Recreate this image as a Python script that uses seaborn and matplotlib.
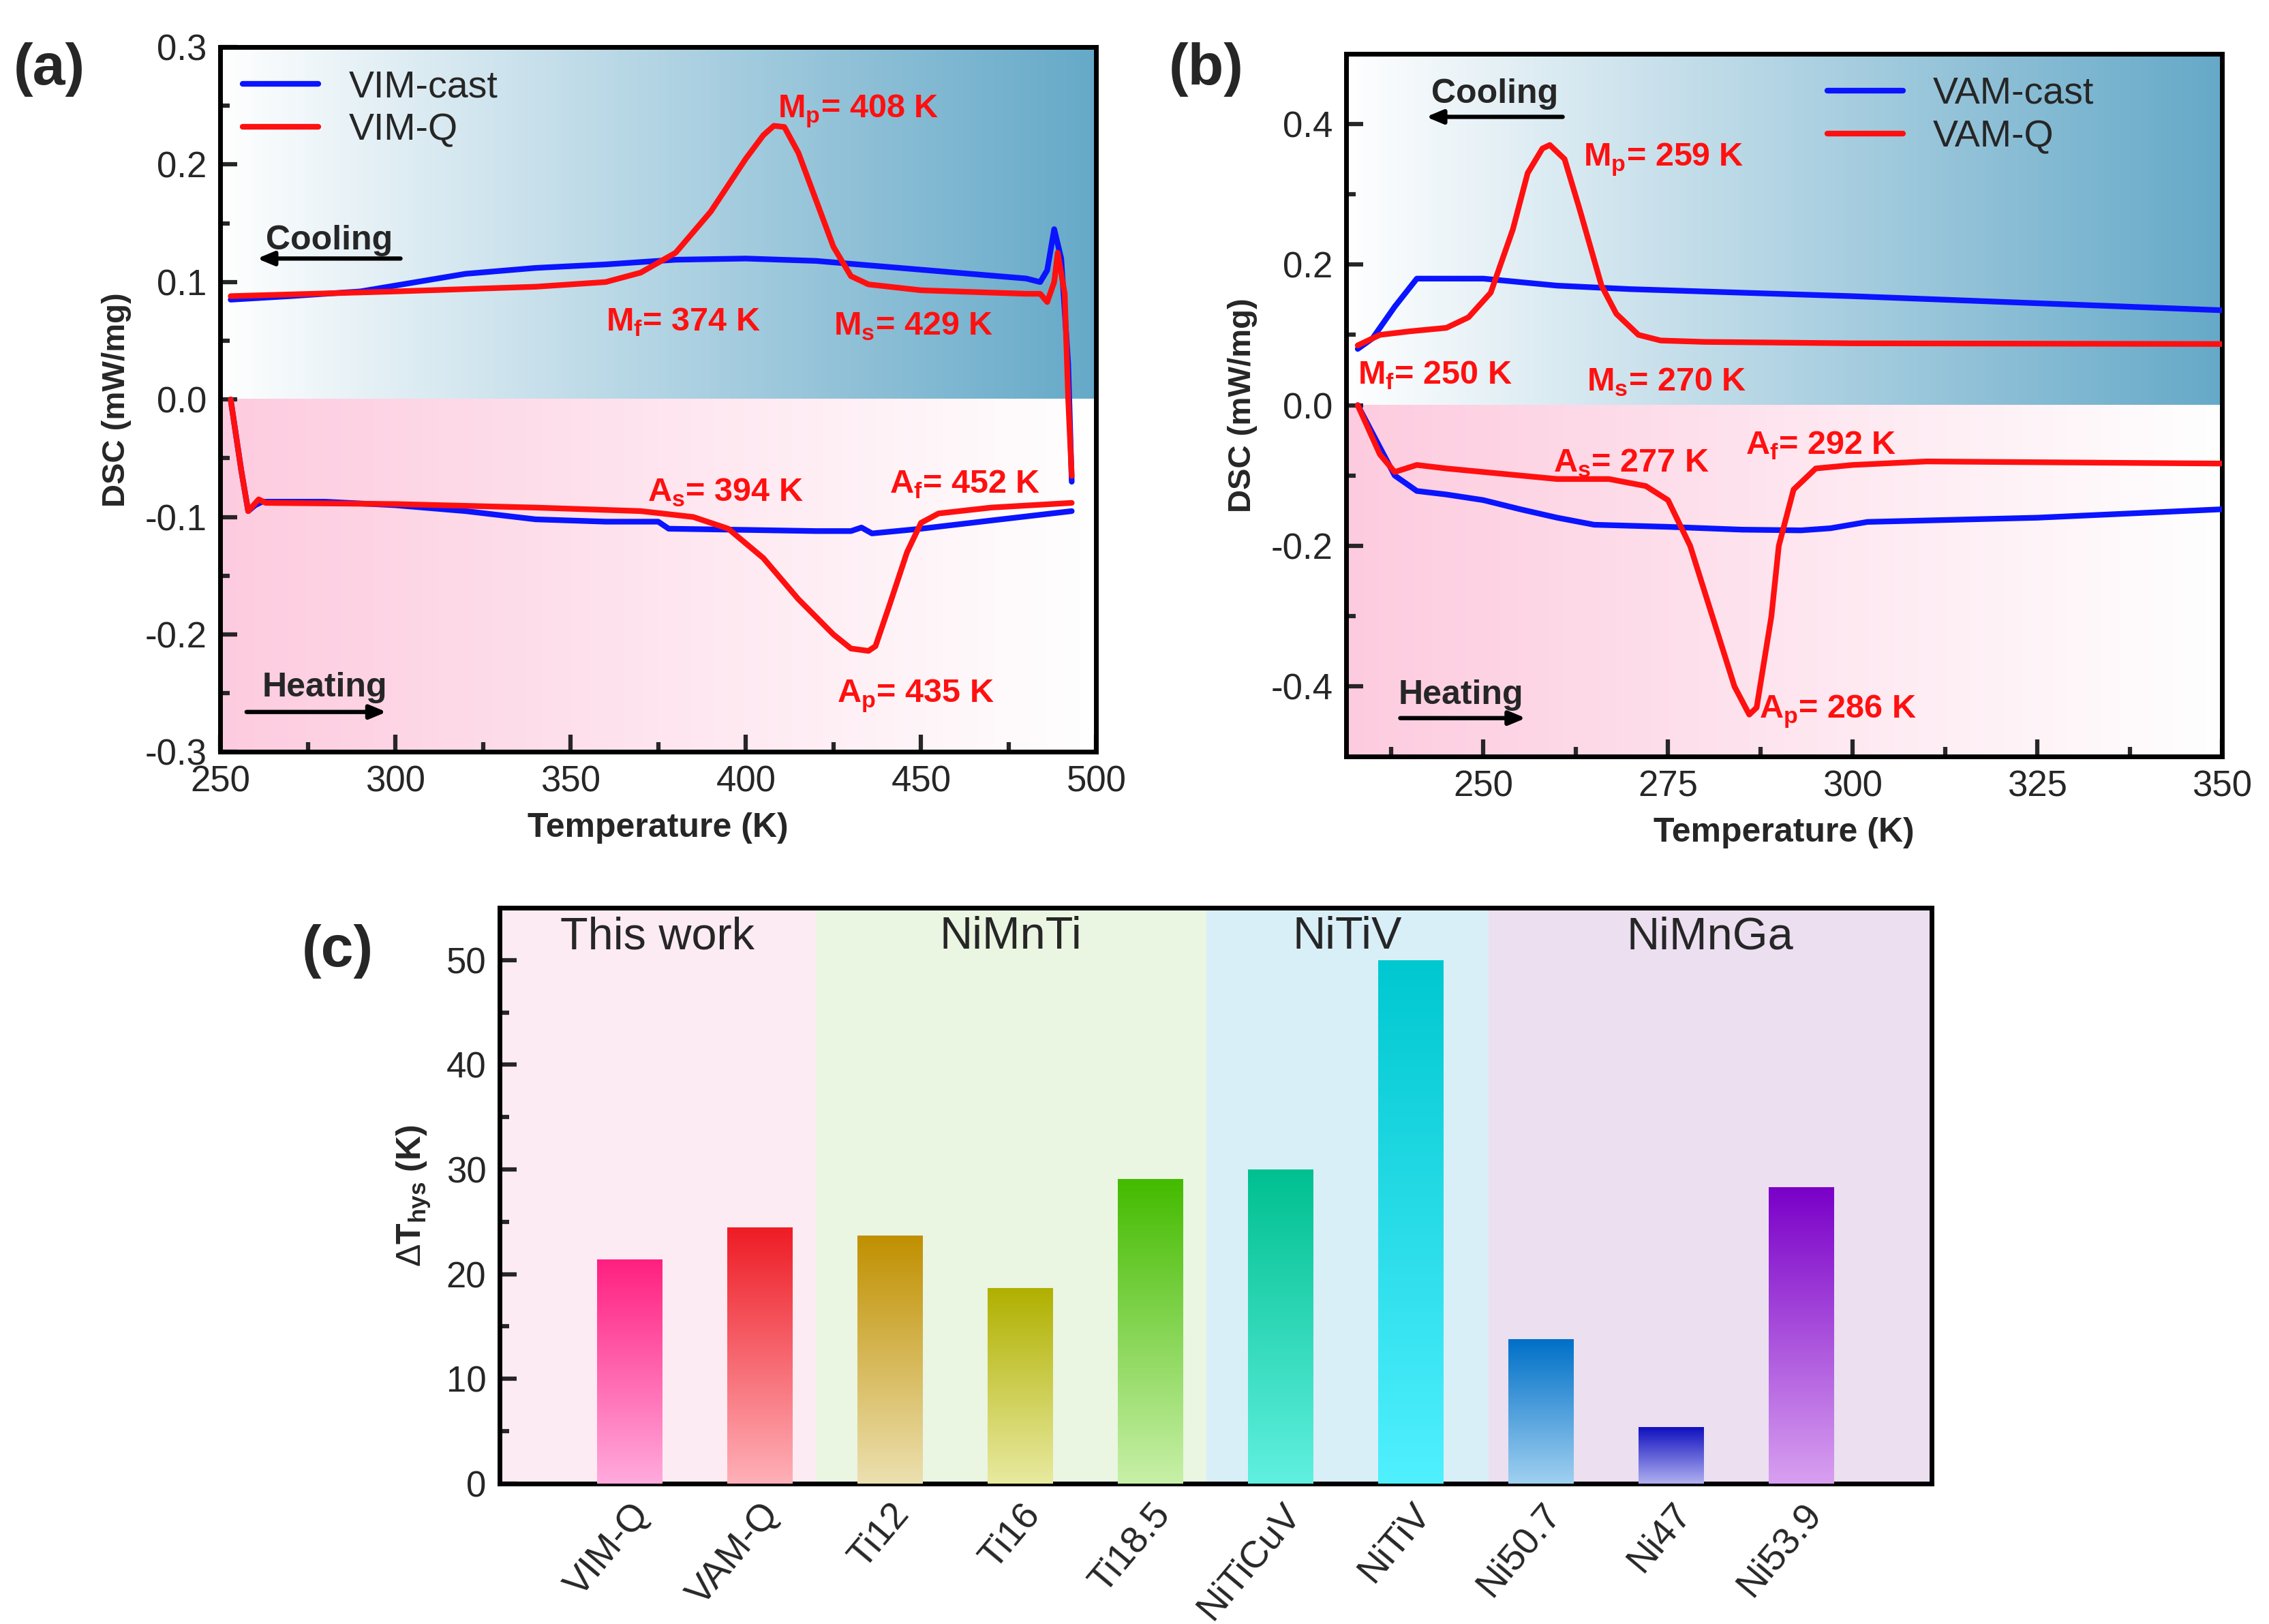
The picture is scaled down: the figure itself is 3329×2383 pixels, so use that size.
import numpy as np
import pandas as pd
import matplotlib
matplotlib.use("Agg")
import matplotlib.pyplot as plt
import seaborn as sns
from matplotlib.colors import LinearSegmentedColormap

sns.set_theme(style="ticks")
plt.rcParams["font.family"] = ["Liberation Sans", "DejaVu Sans"]
plt.rcParams["mathtext.fontset"] = "custom"
plt.rcParams["mathtext.bf"] = "Liberation Sans:bold"
plt.rcParams["mathtext.rm"] = "Liberation Sans"

# ---------------- data: panel (a) ----------------
a_cast_cool_T = [253, 270, 290, 300, 320, 340, 360, 380, 400, 420, 440, 460, 480, 484, 486, 488, 490, 492, 493]
a_cast_cool_Y = [0.085, 0.088, 0.092, 0.097, 0.107, 0.112, 0.115, 0.119, 0.12, 0.118, 0.113, 0.108, 0.103, 0.1, 0.11, 0.145, 0.12, 0.03, -0.07]
a_cast_heat_T = [253, 256, 258, 260, 262, 280, 300, 320, 340, 360, 375, 378, 400, 420, 430, 433, 436, 450, 470, 493]
a_cast_heat_Y = [0, -0.06, -0.095, -0.09, -0.087, -0.087, -0.09, -0.095, -0.102, -0.104, -0.104, -0.11, -0.111, -0.112, -0.112, -0.109, -0.114, -0.11, -0.103, -0.095]
a_q_cool_T = [253, 300, 340, 360, 370, 380, 390, 400, 405, 408, 411, 415, 420, 425, 430, 435, 450, 480, 484, 486, 488, 489, 491, 492, 493]
a_q_cool_Y = [0.088, 0.092, 0.096, 0.1, 0.108, 0.125, 0.16, 0.205, 0.225, 0.233, 0.232, 0.21, 0.17, 0.13, 0.105, 0.098, 0.093, 0.09, 0.09, 0.083, 0.1, 0.125, 0.09, 0.0, -0.065]
a_q_heat_T = [253, 256, 258, 261, 263, 300, 340, 370, 385, 395, 405, 415, 425, 430, 435, 437, 441, 446, 450, 455, 470, 493]
a_q_heat_Y = [0, -0.06, -0.095, -0.085, -0.088, -0.089, -0.092, -0.095, -0.1, -0.11, -0.135, -0.17, -0.2, -0.212, -0.214, -0.21, -0.175, -0.13, -0.105, -0.097, -0.092, -0.088]

# ---------------- data: panel (b) ----------------
b_cast_cool_T = [233, 235, 238, 241, 245, 250, 255, 260, 270, 300, 325, 350]
b_cast_cool_Y = [0.08, 0.095, 0.14, 0.18, 0.18, 0.18, 0.175, 0.17, 0.165, 0.155, 0.145, 0.135]
b_q_cool_T = [233, 236, 240, 245, 248, 251, 254, 256, 258, 259, 261, 263, 266, 268, 271, 274, 280, 300, 350]
b_q_cool_Y = [0.085, 0.1, 0.105, 0.11, 0.125, 0.16, 0.25, 0.33, 0.365, 0.37, 0.35, 0.28, 0.17, 0.13, 0.1, 0.092, 0.09, 0.088, 0.087]
b_cast_heat_T = [233, 235, 238, 241, 245, 250, 255, 260, 265, 275, 285, 293, 297, 302, 325, 350]
b_cast_heat_Y = [0, -0.04, -0.1, -0.122, -0.127, -0.135, -0.148, -0.16, -0.17, -0.173, -0.177, -0.178, -0.175, -0.166, -0.16, -0.148]
b_q_heat_T = [233, 236, 238, 241, 245, 255, 260, 267, 272, 275, 278, 281, 284, 286, 287, 289, 290, 292, 295, 300, 310, 350]
b_q_heat_Y = [0, -0.07, -0.095, -0.085, -0.09, -0.1, -0.105, -0.105, -0.115, -0.135, -0.2, -0.3, -0.4, -0.44, -0.43, -0.3, -0.2, -0.12, -0.09, -0.085, -0.08, -0.083]

# ---------------- data: panel (c) ----------------
samples = ["VIM-Q", "VAM-Q", "Ti12", "Ti16", "Ti18.5", "NiTiCuV", "NiTiV", "Ni50.7", "Ni47", "Ni53.9"]
dT_hys = [21.4, 24.5, 23.7, 18.7, 29.1, 30.0, 50.0, 13.8, 5.4, 28.3]
bar_top = ["#ff2080", "#ee1c25", "#c09000", "#b0b000", "#44bb00", "#00c090", "#00c8d0", "#0070c8", "#1010c0", "#7a00c8"]
bar_bot = ["#ffaadd", "#ffb0b8", "#ece0b0", "#e8eaa0", "#c8f0a8", "#60f0e0", "#50f0ff", "#a0d0f0", "#b0b0f0", "#d8a0f0"]
groups = ["This work", "NiMnTi", "NiTiV", "NiMnGa"]
group_edges = [-1.0, 1.43, 4.43, 6.6, 10.0]
group_colors = ["#fdebf3", "#eaf5e2", "#d8eff8", "#ebdff0"]

RED = "#ff1010"
BLUE = "#0a14ff"

fig = plt.figure(figsize=(33.3, 23.83), dpi=100)
ax_a = fig.add_axes([0.097, 0.537, 0.386, 0.434])
ax_b = fig.add_axes([0.593, 0.534, 0.386, 0.433])
ax_c = fig.add_axes([0.220, 0.0865, 0.631, 0.3545])


def background(ax, xlim, ylim):
    top = LinearSegmentedColormap.from_list("t", ["#ffffff", "#65a9c8"])
    bot = LinearSegmentedColormap.from_list("b", ["#fdcbdf", "#ffffff"])
    g = np.linspace(0, 1, 256).reshape(1, -1)
    ax.imshow(g, cmap=top, aspect="auto", extent=[xlim[0], xlim[1], 0, ylim[1]], zorder=0)
    ax.imshow(g, cmap=bot, aspect="auto", extent=[xlim[0], xlim[1], ylim[0], 0], zorder=0)
    ax.set_xlim(*xlim)
    ax.set_ylim(*ylim)


def style(ax):
    for s in ax.spines.values():
        s.set_linewidth(5)
        s.set_color("black")
    ax.tick_params(which="major", direction="in", length=18, width=4.5, labelsize=38, pad=14)
    ax.tick_params(which="minor", direction="in", length=10, width=4.5)


def curve(ax, T, Y, color, label=None):
    sns.lineplot(x=T, y=Y, ax=ax, color=color, lw=6, sort=False, label=label, zorder=3)


fmt = matplotlib.ticker.FuncFormatter(lambda v, p: f"{v:.1f}".replace("-0.0", "0.0"))
ann = dict(color=RED, fontsize=35, fontweight="bold", zorder=5)
arrow = dict(arrowstyle="-|>,head_width=0.5,head_length=1.2", lw=4.5, color="black")

# ---- panel (a)
background(ax_a, (250, 500), (-0.3, 0.3))
curve(ax_a, a_cast_cool_T, a_cast_cool_Y, BLUE, "VIM-cast")
curve(ax_a, a_q_cool_T, a_q_cool_Y, RED, "VIM-Q")
curve(ax_a, a_cast_heat_T, a_cast_heat_Y, BLUE)
curve(ax_a, a_q_heat_T, a_q_heat_Y, RED)
ax_a.set_xticks([250, 300, 350, 400, 450, 500])
ax_a.set_xticks(np.arange(275, 500, 50), minor=True)
ax_a.set_yticks(np.arange(-0.3, 0.31, 0.1))
ax_a.set_yticks(np.arange(-0.25, 0.3, 0.1), minor=True)
ax_a.yaxis.set_major_formatter(fmt)
style(ax_a)
ax_a.legend(loc="upper left", frameon=False, fontsize=40, handlelength=2.0, borderaxespad=0.2, labelspacing=0.2)
ax_a.text(409, 0.24, r"M$_\mathbf{p}$= 408 K", **ann)
ax_a.text(360, 0.058, r"M$_\mathbf{f}$= 374 K", **ann)
ax_a.text(425, 0.055, r"M$_\mathbf{s}$= 429 K", **ann)
ax_a.text(372, -0.087, r"A$_\mathbf{s}$= 394 K", **ann)
ax_a.text(441, -0.08, r"A$_\mathbf{f}$= 452 K", **ann)
ax_a.text(426, -0.258, r"A$_\mathbf{p}$= 435 K", **ann)
ax_a.text(263, 0.128, "Cooling", fontsize=36, fontweight="bold")
ax_a.annotate("", xy=(260, 0.12), xytext=(302, 0.12), arrowprops=arrow)
ax_a.text(262, -0.253, "Heating", fontsize=36, fontweight="bold")
ax_a.annotate("", xy=(298, -0.266), xytext=(257, -0.266), arrowprops=arrow)
ax_a.set_xlabel("Temperature (K)", fontsize=36, fontweight="bold", labelpad=14)
ax_a.set_ylabel("DSC (mW/mg)", fontsize=34, fontweight="bold", labelpad=14)
fig.text(0.006, 0.948, "(a)", fontsize=62, fontweight="bold")

# ---- panel (b)
background(ax_b, (231.4, 350), (-0.5, 0.5))
curve(ax_b, b_cast_cool_T, b_cast_cool_Y, BLUE, "VAM-cast")
curve(ax_b, b_q_cool_T, b_q_cool_Y, RED, "VAM-Q")
curve(ax_b, b_cast_heat_T, b_cast_heat_Y, BLUE)
curve(ax_b, b_q_heat_T, b_q_heat_Y, RED)
ax_b.set_xticks([250, 275, 300, 325, 350])
ax_b.set_xticks(np.arange(237.5, 350, 25), minor=True)
ax_b.set_yticks([-0.4, -0.2, 0.0, 0.2, 0.4])
ax_b.set_yticks([-0.3, -0.1, 0.1, 0.3], minor=True)
ax_b.yaxis.set_major_formatter(fmt)
style(ax_b)
ax_b.legend(loc="upper right", frameon=False, fontsize=40, handlelength=2.0, borderaxespad=0.2, labelspacing=0.2, bbox_to_anchor=(0.88, 1.0))
ax_b.text(263.5, 0.34, r"M$_\mathbf{p}$= 259 K", **ann)
ax_b.text(233, 0.03, r"M$_\mathbf{f}$= 250 K", **ann)
ax_b.text(264, 0.02, r"M$_\mathbf{s}$= 270 K", **ann)
ax_b.text(259.5, -0.095, r"A$_\mathbf{s}$= 277 K", **ann)
ax_b.text(285.5, -0.07, r"A$_\mathbf{f}$= 292 K", **ann)
ax_b.text(287.3, -0.445, r"A$_\mathbf{p}$= 286 K", **ann)
ax_b.text(243, 0.43, "Cooling", fontsize=36, fontweight="bold")
ax_b.annotate("", xy=(242, 0.41), xytext=(261, 0.41), arrowprops=arrow)
ax_b.text(238.5, -0.425, "Heating", fontsize=36, fontweight="bold")
ax_b.annotate("", xy=(256, -0.445), xytext=(238.5, -0.445), arrowprops=arrow)
ax_b.set_xlabel("Temperature (K)", fontsize=36, fontweight="bold", labelpad=14)
ax_b.set_ylabel("DSC (mW/mg)", fontsize=34, fontweight="bold", labelpad=14)
fig.text(0.515, 0.948, "(b)", fontsize=62, fontweight="bold")

# ---- panel (c)
for i, g in enumerate(groups):
    ax_c.axvspan(group_edges[i], group_edges[i + 1], color=group_colors[i], lw=0, zorder=0)
    ax_c.text((group_edges[i] + group_edges[i + 1]) / 2, 52.2, g, ha="center", va="center", fontsize=48, zorder=5)
df = pd.DataFrame({"sample": samples, "dT": dT_hys})
sns.barplot(data=df, x="sample", y="dT", ax=ax_c, color="white", width=0.5, zorder=2)
grad = np.linspace(0, 1, 256).reshape(-1, 1)
for patch, ct, cb in zip(ax_c.containers[0], bar_top, bar_bot):
    x0, w, h = patch.get_x(), patch.get_width(), patch.get_height()
    cmap = LinearSegmentedColormap.from_list("g", [cb, ct])
    im = ax_c.imshow(grad, cmap=cmap, origin="lower", aspect="auto", extent=[x0, x0 + w, 0, h], zorder=3)
    im.set_clip_path(patch)
    patch.set_edgecolor("none")
ax_c.set_xlim(-1, 10)
ax_c.set_ylim(0, 55)
ax_c.set_yticks([0, 10, 20, 30, 40, 50])
ax_c.set_yticks([5, 15, 25, 35, 45], minor=True)
style(ax_c)
ax_c.tick_params(axis="x", labelsize=40)
plt.setp(ax_c.get_xticklabels(), rotation=50, ha="right", rotation_mode="anchor")
ax_c.set_xlabel("")
ax_c.set_ylabel(r"$\Delta$T$_\mathbf{hys}$ (K)", fontsize=36, fontweight="bold", labelpad=14)
fig.text(0.133, 0.405, "(c)", fontsize=62, fontweight="bold")

fig.savefig("out.png", dpi=100)
